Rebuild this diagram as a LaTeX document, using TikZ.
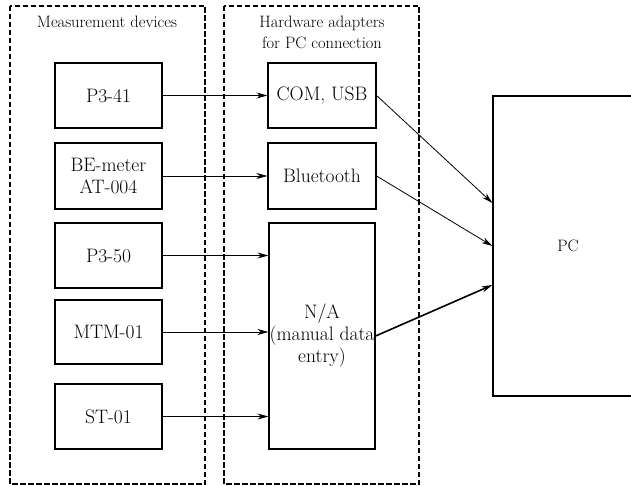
\documentclass[tikz,border=0pt]{standalone}
\usetikzlibrary{arrows.meta,calc}

\begin{document}
\begin{tikzpicture}[x=1pt,y=-1pt,>={Stealth[length=11pt,width=6pt]},
	box/.style={draw,line width=1.2pt,inner sep=0pt,align=center,
		font=\fontsize{19.5}{22}\selectfont},
	frame/.style={draw,line width=1.2pt,dash pattern=on 5.5pt off 2.5pt},
	link/.style={->,line width=0.8pt},
	title/.style={align=center,font=\fontsize{16.5}{21}\selectfont}]

\useasboundingbox (0,0) rectangle (631,486);

\begin{scope}
\clip (0,0) rectangle (631,486);

% group frames
\draw[frame] (10,6) rectangle (205,484);
\draw[frame] (224,6) rectangle (419,484);
\node[title] (devtitle) at (107,22) {Measurement devices};
\node[title] (adtitle) at (322,32.5) {Hardware adapters\\for PC connection};

% measurement devices
\node[box,minimum width=107pt,minimum height=65pt] (p341) at (108.5,95.5) {P3-41};
\node[box,minimum width=107pt,minimum height=66pt] (bem) at (108.5,176) {BE-meter\\AT-004};
\node[box,minimum width=107pt,minimum height=65pt] (p350) at (108.5,255.5) {P3-50};
\node[box,minimum width=107pt,minimum height=64pt] (mtm) at (108.5,332) {MTM-01};
\node[box,minimum width=107pt,minimum height=65pt] (st) at (108.5,416.5) {ST-01};

% adapters
\node[box,minimum width=108pt,minimum height=65pt] (com) at (322,95.5) {COM, USB};
\node[box,minimum width=108pt,minimum height=66pt] (bt) at (322,176) {Bluetooth};
\node[box,minimum width=106pt,minimum height=226pt] (na) at (322,336)
	{N/A\\(manual data\\entry)};

% computer
\node[box,minimum width=150pt,minimum height=300pt,font=\fontsize{16.5}{20}\selectfont]
	(pc) at (568,246) {PC};
\coordinate (pcin1) at ([yshift=43pt]pc.west);
\coordinate (pcin2) at (pc.west);
\coordinate (pcin3) at ([yshift=-39pt]pc.west);

\draw[link] (p341) -- (com);
\draw[link] (bem) -- (bt);
\draw[link] (p350.east) -- (p350.east -| na.west);
\draw[link] (mtm.east) -- (mtm.east -| na.west);
\draw[link] (st.east) -- (st.east -| na.west);

\draw[link] (com.east) -- (pcin1);
\draw[link] (bt.east) -- (pcin2);
\draw[link,line width=1.6pt] (na.east) -- (pcin3);
\end{scope}

\end{tikzpicture}
\end{document}
